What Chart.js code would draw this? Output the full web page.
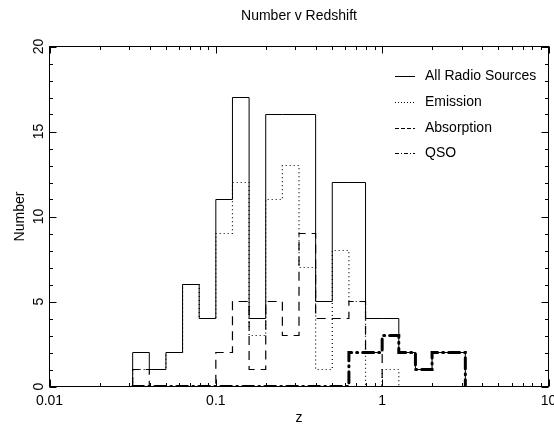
<!DOCTYPE html>
<html>
<head>
<meta charset="utf-8">
<script src="https://cdn.jsdelivr.net/npm/chart.js@4.4.0/dist/chart.umd.min.js"></script>
<style>
  html, body { margin: 0; padding: 0; background: #fff; }
  #wrap { width: 554px; height: 432px; }
</style>
</head>
<body>
<div id="wrap"><canvas id="zChart"></canvas></div>
<script>
// log10(z) bin edges, bins are 0.1 dex wide
const logEdges = [-1.5, -1.4, -1.3, -1.2, -1.1, -1.0, -0.9, -0.8, -0.7, -0.6, -0.5,
                  -0.4, -0.3, -0.2, -0.1, 0.0, 0.1, 0.2, 0.3, 0.4, 0.5];

// counts per bin
const allSources = [2, 1, 2, 6, 4, 11, 17, 4, 16, 16, 16, 5, 12, 12, 4, 4, 2, 1, 2, 2];
const emission   = [1, 1, 2, 6, 4, 9, 12, 3, 11, 13, 7, 1, 8, 5, 0, 1, 0, 0, 0, 0];
const absorption = [1, 0, 0, 0, 0, 2, 5, 1, 5, 3, 9, 4, 4, 5, 2, 0, 0, 0, 0, 0];
const qso        = [0, 0, 0, 0, 0, 0, 0, 0, 0, 0, 0, 0, 0, 2, 2, 3, 2, 1, 2, 2];

const xDecades = [0.01, 0.1, 1, 10];
const yLabelValues = [0, 5, 10, 15, 20];

const FONT = '"Liberation Sans", Arial, sans-serif';

// turn bin counts into step outline points
function histPoints(counts) {
  const pts = [{ x: Math.pow(10, logEdges[0]), y: 0 }];
  counts.forEach((c, i) => pts.push({ x: Math.pow(10, logEdges[i]), y: c }));
  pts.push({ x: Math.pow(10, logEdges[logEdges.length - 1]), y: 0 });
  return pts;
}

// legend line styles (shorter patterns than the data lines)
const legendDash = {
  'All Radio Sources': [],
  'Emission': [1, 2],
  'Absorption': [4, 2],
  'QSO': [4, 2, 1, 2]
};

const framePlugin = {
  id: 'frame',
  afterDraw(chart) {
    const ctx = chart.ctx;
    const a = chart.chartArea;
    const xs = chart.scales.x;
    const ys = chart.scales.y;
    ctx.save();
    ctx.strokeStyle = '#000';
    ctx.fillStyle = '#000';
    ctx.lineWidth = 1;
    ctx.setLineDash([]);
    ctx.strokeRect(a.left, a.top, a.right - a.left, a.bottom - a.top);

    // inward ticks on all four sides
    ctx.beginPath();
    xs.ticks.forEach(t => {
      const px = Math.round(xs.getPixelForValue(t.value)) + 0.5;
      const len = xDecades.includes(t.value) ? 7 : 3.5;
      ctx.moveTo(px, a.bottom); ctx.lineTo(px, a.bottom - len);
      ctx.moveTo(px, a.top); ctx.lineTo(px, a.top + len);
    });
    ys.ticks.forEach(t => {
      const py = Math.round(ys.getPixelForValue(t.value)) + 0.5;
      const len = t.value % 5 === 0 ? 7 : 3.5;
      ctx.moveTo(a.left, py); ctx.lineTo(a.left + len, py);
      ctx.moveTo(a.right, py); ctx.lineTo(a.right - len, py);
    });
    ctx.stroke();

    ctx.font = '14px ' + FONT;
    ctx.textAlign = 'center';
    ctx.textBaseline = 'middle';

    // rotated y tick labels
    yLabelValues.forEach(v => {
      ctx.save();
      ctx.translate(39, ys.getPixelForValue(v));
      ctx.rotate(-Math.PI / 2);
      ctx.fillText(String(v), 0, 0);
      ctx.restore();
    });

    const cx = (a.left + a.right) / 2;
    const cy = (a.top + a.bottom) / 2;
    ctx.fillText('Number v Redshift', cx, 16);
    ctx.fillText('z', cx, 418);
    ctx.save();
    ctx.translate(20, cy);
    ctx.rotate(-Math.PI / 2);
    ctx.fillText('Number', 0, 0);
    ctx.restore();

    // legend
    ctx.textAlign = 'left';
    const rows = [76, 102, 128, 153];
    chart.data.datasets.forEach((ds, i) => {
      const y = rows[i] + 0.5;
      ctx.setLineDash(legendDash[ds.label]);
      ctx.beginPath();
      ctx.moveTo(395, y); ctx.lineTo(415, y);
      ctx.stroke();
      ctx.setLineDash([]);
      ctx.fillText(ds.label, 425, rows[i]);
    });
    ctx.restore();
  }
};

const ctx = document.getElementById('zChart').getContext('2d');
const zChart = new Chart(ctx, {
  type: 'scatter',
  data: {
    datasets: [
      { label: 'All Radio Sources', data: histPoints(allSources), borderDash: [] , borderWidth: 1 },
      { label: 'Emission', data: histPoints(emission), borderDash: [1, 3], borderWidth: 1.2 },
      { label: 'Absorption', data: histPoints(absorption), borderDash: [9, 6], borderWidth: 1.2 },
      { label: 'QSO', data: histPoints(qso), borderDash: [11, 5, 1, 5], borderWidth: 3, borderCapStyle: 'round' }
    ].map(ds => Object.assign({
      showLine: true,
      stepped: 'before',
      borderColor: '#000',
      pointRadius: 0,
      pointHoverRadius: 0,
      fill: false
    }, ds))
  },
  options: {
    responsive: true,
    maintainAspectRatio: false,
    animation: false,
    events: [],
    layout: { autoPadding: false, padding: { top: 46.5, right: 5.5, left: 0, bottom: 0 } },
    plugins: {
      legend: { display: false },
      title: { display: false },
      tooltip: { enabled: false }
    },
    scales: {
      x: {
        type: 'logarithmic',
        min: 0.01,
        max: 10,
        grid: { display: false, drawTicks: false },
        border: { display: false },
        afterBuildTicks: scale => {
          const ticks = [];
          xDecades.slice(0, -1).forEach(d => {
            for (let m = 1; m <= 9; m++) ticks.push({ value: m === 1 ? d : d * m });
          });
          ticks.push({ value: xDecades[xDecades.length - 1] });
          scale.ticks = ticks;
        },
        afterFit: scale => {
          scale.height = 45.5;
          scale.paddingLeft = 0;
          scale.paddingRight = 0;
        },
        ticks: {
          autoSkip: false,
          maxRotation: 0,
          minRotation: 0,
          padding: 6,
          color: '#000',
          font: { family: FONT, size: 14 },
          callback: value => xDecades.includes(value) ? String(value) : ''
        }
      },
      y: {
        min: 0,
        max: 20,
        grid: { display: false, drawTicks: false },
        border: { display: false },
        ticks: { display: false, stepSize: 1 },
        afterFit: scale => {
          scale.width = 49.5;
          scale.paddingTop = 0;
          scale.paddingBottom = 0;
        }
      }
    }
  },
  plugins: [framePlugin]
});
</script>
</body>
</html>
